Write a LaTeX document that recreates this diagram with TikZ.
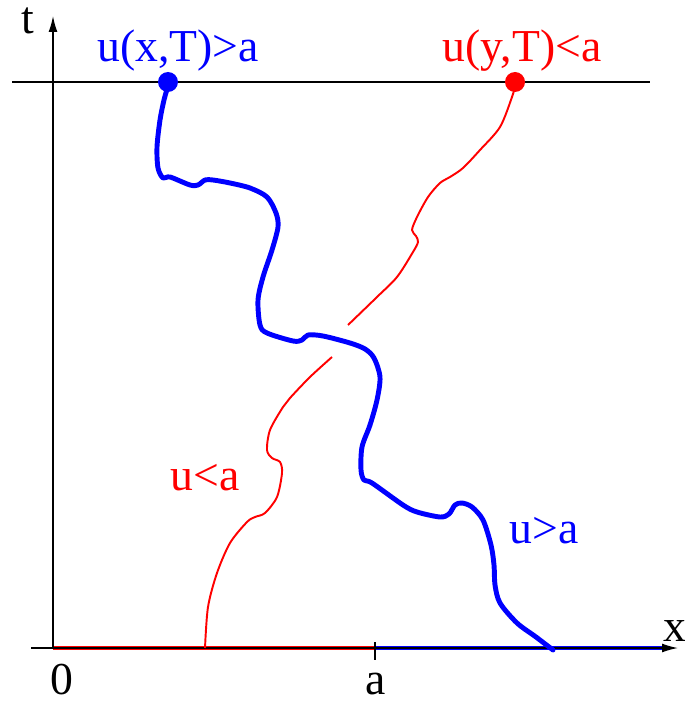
\documentclass[tikz,border=0pt]{standalone}
\usepackage{fontspec}
\setmainfont{Liberation Serif}
\usetikzlibrary{arrows.meta, positioning}

\begin{document}
\begin{tikzpicture}[
    x=0.02cm, y=-0.02cm,
    lbl/.style={inner sep=0pt, anchor=base, font=\fontsize{26}{31}\selectfont},
    axis/.style={line width=0.8pt, black},
    axarr/.style={axis, -{Latex[length=9pt, width=5pt]}},
    band/.style={line width=2.2pt},
    dot/.style={circle, fill, inner sep=0pt, minimum size=0.4cm},
    upath/.style={line width=2.8pt, blue, line join=round, line cap=round},
    lpath/.style={line width=1.1pt, red, line join=round},
]
    \useasboundingbox (0,0) rectangle (685,702);

    % Axes
    \coordinate (O)  at (53,648);
    \coordinate (xl) at (31,648);
    \coordinate (xr) at (678,648);
    \coordinate (tt) at (53,16);
    \coordinate (A)  at (375,648);
    \coordinate (xb) at (662,648);
    \coordinate (hl) at (12,82);
    \coordinate (hr) at (650,82);

    % Initial data: red below a, blue above a
    \draw[band, red]  (O) -- (A);
    \draw[band, blue] (A) -- (xb);

    \draw[axarr] (xl) -- (xr);
    \draw[axarr] (O) -- (tt);
    \draw[axis] (hl) -- (hr);
    \draw[axis] ([yshift=0.12cm]A) -- ([yshift=-0.24cm]A);

    % Axis labels
    \node[lbl] (tlab) at (28,34)  {t};
    \node[lbl] (xlab) at (675,641) {x};
    \node[lbl] (zero) at (62,694) {0};
    \node[lbl] (alab) at (376,694) {a};

    % End points at time T
    \node[dot, blue] (xdot) at (168,82) {};
    \node[dot, red]  (ydot) at (515,82) {};
    \node[lbl, blue] (xtxt) at (178,62) {u(x,T)>a};
    \node[lbl, red]  (ytxt) at (522,62) {u(y,T)<a};

    % Region labels
    \node[lbl, red]  (ulow) at (205,490) {u<a};
    \node[lbl, blue] (uhig) at (544,543) {u>a};

    % Level curve u>a
    \draw[upath] plot[smooth, tension=0.5] coordinates {
        (168,86) (164,100) (160,120) (157,147) (158,168) (163,178) (170,177)
        (190,185) (198,185) (205,180) (213,180) (230,183) (250,188) (267,197)
        (276,213) (278,227) (272,250) (263,277) (258,300) (260,325) (267,333)
        (293,341) (302,340) (308,335) (323,336) (350,343) (365,349) (374,358)
        (380,377) (377,400) (370,425) (362,447) (361,470) (364,480) (372,483)
        (403,505) (417,512) (440,517) (449,514) (455,505) (462,503) (472,507)
        (483,520) (491,545) (494,565) (495,585) (500,603) (517,623) (536,637)
        (553,650)};

    % Level curve u<a (interrupted where it passes under the blue one)
    \draw[lpath] plot[smooth, tension=0.5] coordinates {
        (515,86) (512,97) (500,127) (480,150) (463,168) (450,177) (440,183)
        (428,197) (417,217) (412,230) (416,236) (418,242) (413,252) (397,277)
        (377,297) (348,325)};
    \draw[lpath] plot[smooth, tension=0.5] coordinates {
        (332,357) (310,377) (290,398) (283,407) (270,430) (267,450) (272,458)
        (280,462) (282,473) (277,497) (265,513) (255,517) (247,522) (230,543)
        (217,573) (208,607) (205,648)};
\end{tikzpicture}
\end{document}
